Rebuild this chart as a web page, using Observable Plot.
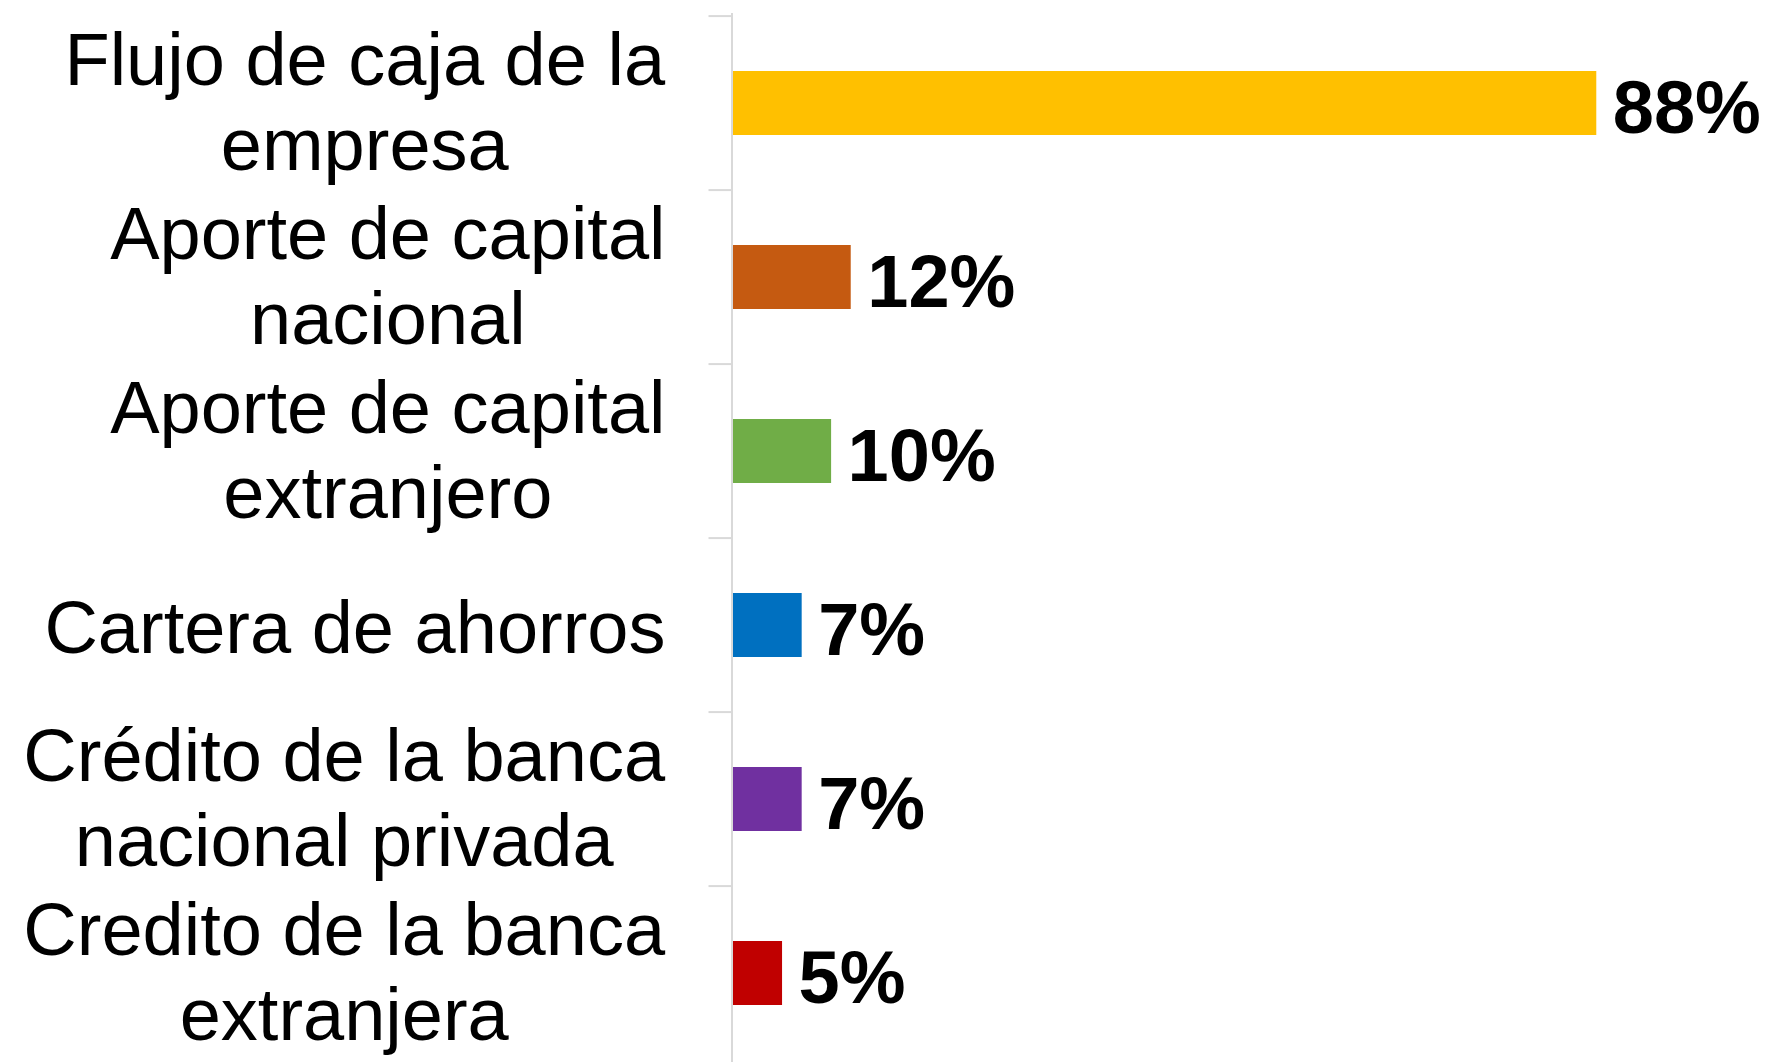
<!DOCTYPE html>
<html>
<head>
<meta charset="utf-8">
<script src="https://cdn.jsdelivr.net/npm/d3@7"></script>
<script src="https://cdn.jsdelivr.net/npm/@observablehq/plot@0.6"></script>
<style>
  html, body { margin: 0; padding: 0; background: #fff; overflow: hidden; }
  svg { display: block; }
</style>
</head>
<body>
<div id="chart"></div>
<script>
const categories = [
  "Flujo de caja de la\nempresa",
  "Aporte de capital\nnacional",
  "Aporte de capital\nextranjero",
  "Cartera de ahorros",
  "Crédito de la banca\nnacional privada",
  "Credito de la banca\nextranjera"
];
const values = [88, 12, 10, 7, 7, 5];
const barColors = ["#FFC000", "#C55A11", "#70AD47", "#0070C0", "#7030A0", "#C00000"];

const data = categories.map((c, i) => ({category: c, value: values[i]}));

const W = 1770, H = 1062, MT = 13, MB = 0;
const step = (H - MT - MB) / categories.length;
const font = "'Liberation Sans', Arial, sans-serif";

const chart = Plot.plot({
  width: W,
  height: H,
  marginLeft: 733,
  marginRight: 56,
  marginTop: MT,
  marginBottom: MB,
  style: {fontFamily: font, background: "#fff"},
  x: {domain: [0, 100], axis: null},
  y: {domain: categories, paddingInner: 0.635, paddingOuter: 0.3175, label: null},
  color: {domain: categories, range: barColors},
  marks: [
    Plot.barX(data, {x: "value", y: "category", fill: "category"}),
    Plot.ruleX([0], {stroke: "#d9d9d9", strokeWidth: 2, dx: -1.5}),
    Plot.axisY({fill: "none", tickSize: 23, stroke: "#d9d9d9", strokeWidth: 2, dy: -step / 2, dx: -1.5}),
    Plot.axisY({tickSize: 0, tickPadding: 68, fontSize: 74, lineHeight: 1.15, fill: "#000", label: null}),
    Plot.text(data, {
      x: "value", y: "category",
      text: d => `${d.value}%`,
      textAnchor: "start", dx: 16, dy: 6,
      fontSize: 74, fontWeight: "bold", fill: "#000"
    })
  ]
});
document.getElementById("chart").appendChild(chart);

// Center the wrapped lines of each category label inside its right-aligned block
const flat = new Set(categories.map(c => c.replace(/\n/g, "")));
chart.querySelectorAll("text").forEach(t => {
  if (!flat.has(t.textContent.replace(/\n/g, ""))) return;
  const w = t.getBBox().width;
  const multi = t.querySelectorAll("tspan").length > 1;
  t.setAttribute("text-anchor", "middle");
  const tr = t.getAttribute("transform") || "";
  t.setAttribute("transform", `${tr} translate(${-w / 2},${multi ? -3.5 : 0})`);
});
</script>
</body>
</html>
